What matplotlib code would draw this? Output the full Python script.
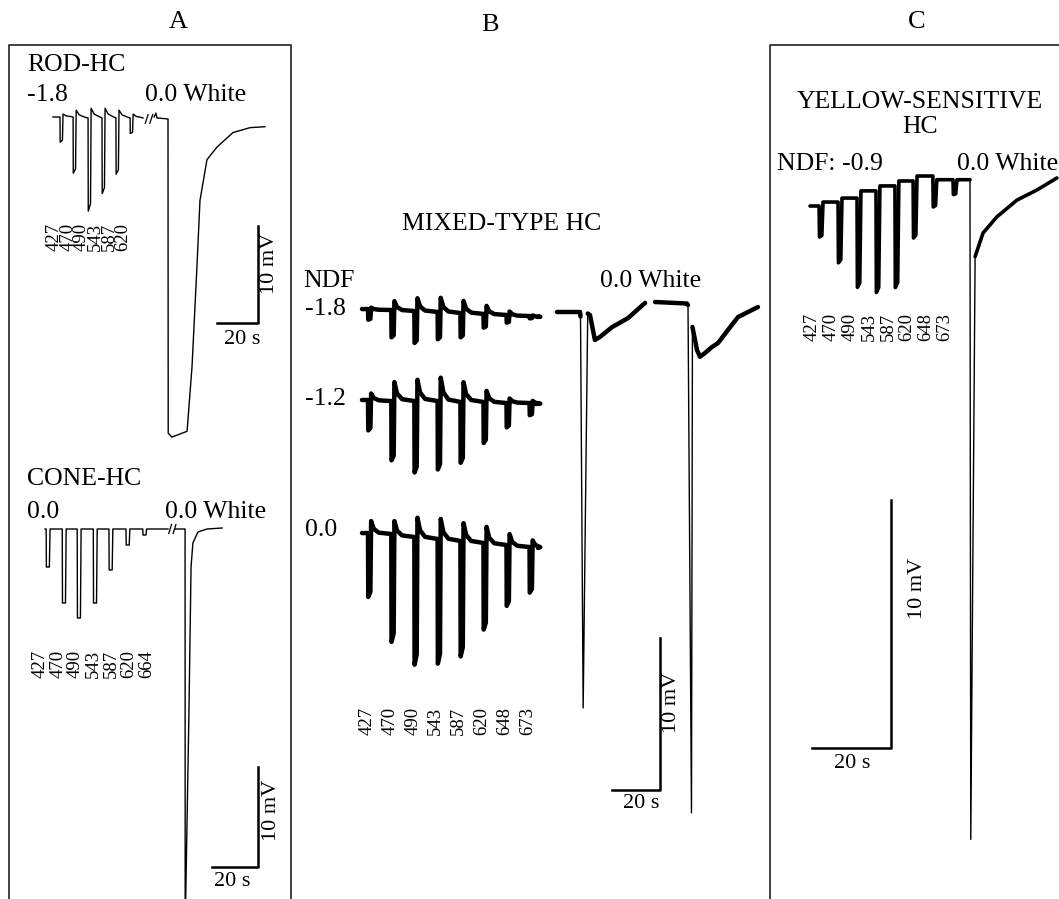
import matplotlib
matplotlib.use('Agg')
import matplotlib.pyplot as plt

plt.rcParams['font.family'] = 'Liberation Serif'

W, H = 1059, 899

# stimulus wavelengths (nm)
rod_wl = [427, 470, 490, 543, 587, 620]
cone_wl = [427, 470, 490, 543, 587, 620, 664]
mixed_wl = [427, 470, 490, 543, 587, 620, 648, 673]
yellow_wl = [427, 470, 490, 543, 587, 620, 648, 673]

# A, rod HC (NDF -1.8): onset (s), response (mV), off-rebound (mV), baseline (mV)
rod_t = [3.4, 9.8, 17.1, 23.9, 30.7, 37.6]
rod_amp = [2.6, 5.8, 9.6, 7.8, 5.8, 1.6]
rod_reb = [0.3, 0.8, 1.0, 1.0, 0.8, 0.4]
rod_base = [0, 0, -0.1, -0.1, -0.1, -0.1, -0.1]
rod_white_t = [49.3, 50.2, 50.7, 56.1, 56.2, 58.0, 65.4, 67.8, 70.2, 71.7, 75.1, 80.0, 87.8, 96.1, 103.4]
rod_white_v = [0.0, 0.4, -0.1, -0.2, -32.6, -33.0, -32.4, -25.8, -15.5, -8.6, -4.4, -3.1, -1.6, -1.1, -1.0]

# A, cone HC (NDF 0.0)
cone_t = [0.5, 7.5, 14.0, 21.0, 27.8, 35.2, 42.5]
cone_amp = [3.8, 7.4, 8.9, 7.4, 4.1, 1.6, 0.6]
cone_base = [0, 0, 0, 0, 0, 0, 0, 0]
cone_white_t = [56.5, 60.9, 60.95, 62.6, 63.5, 64.3, 66.5, 70.4, 77.0]
cone_white_v = [0.0, 0.0, -40.0, -18.1, -3.8, -1.4, -0.3, 0.0, 0.1]

# B, mixed-type HC at three NDF levels
mixed_t = [2.5, 12.2, 21.8, 31.5, 41.0, 50.6, 60.2, 69.8]
mix18_amp = [0.7, 1.8, 2.1, 1.8, 1.6, 0.9, 0.5, 0.15]
mix18_reb = [0.15, 0.65, 0.9, 1.0, 0.85, 0.6, 0.3, 0.1]
mix18_base = [-0.07, -0.13, -0.2, -0.26, -0.33, -0.39, -0.46, -0.53, -0.59]
mix12_amp = [2.0, 3.9, 4.7, 4.5, 4.0, 2.7, 1.6, 0.8]
mix12_reb = [0.5, 1.25, 1.4, 1.6, 1.3, 0.8, 0.3, 0.2]
mix12_base = [0, -0.07, -0.07, -0.07, -0.13, -0.13, -0.2, -0.2, -0.26]
mix00_amp = [4.2, 7.1, 8.4, 8.2, 7.6, 5.7, 4.0, 3.0]
mix00_reb = [0.85, 1.05, 1.4, 1.45, 1.3, 1.2, 0.85, 0.5]
mix00_base = [-0.07, -0.13, -0.33, -0.46, -0.59, -0.72, -0.86, -0.99, -1.05]
white1_t = [0, 9.6, 9.8, 10.9, 12.8, 13.75, 15.8, 17.9, 22.9, 29.6, 36.7]
white1_v = [0, 0, -0.3, -26.05, -0.1, -0.2, -1.84, -1.64, -1.0, -0.4, 0.6]
white2_t = [0, 13.3, 13.75, 15.2, 15.6, 17.5, 18.75, 20.8, 23.75, 26.25, 30.4, 34.6, 38.75, 42.9]
white2_v = [0, -0.1, -0.2, -33.6, -1.64, -3.16, -3.6, -3.36, -2.96, -2.7, -1.84, -0.99, -0.66, -0.33]

# C, yellow-sensitive HC (NDF -0.9)
yel_t = [2.3, 7.1, 11.9, 16.7, 21.5, 26.1, 31.1, 36.2]
yel_amp = [1.25, 2.45, 3.6, 4.1, 4.1, 2.3, 1.25, 0.6]
yel_base = [0.04, 0.2, 0.36, 0.65, 0.85, 1.05, 1.25, 1.1, 1.1]
yel_white_t = [40.5, 40.7, 41.8, 43.8, 47.3, 52.4, 57.5, 62.5]
yel_white_v = [1.1, -25.5, -2.0, -1.05, -0.4, 0.28, 0.69, 1.17]


fig = plt.figure(figsize=(W / 100, H / 100), dpi=100)

deco = fig.add_axes([0, 0, 1, 1])
deco.set_xlim(0, W)
deco.set_ylim(H, 0)
deco.axis('off')


def trace_axes(x0, y0, px_s, px_mv):
    # axes spanning the figure, origin of (s, mV) at pixel (x0, y0)
    ax = fig.add_axes([0, 0, 1, 1])
    ax.set_xlim(-x0 / px_s, (W - x0) / px_s)
    ax.set_ylim(-(H - y0) / px_mv, y0 / px_mv)
    ax.axis('off')
    return ax


def train(onsets, amps, base, reb, width, decay, sag, t_end):
    t, v = [0.0], [base[0]]
    for i, (on, a) in enumerate(zip(onsets, amps)):
        b0, b1 = base[i], base[i + 1]
        r = reb[i] if reb else 0
        t += [on, on + 0.1, on + width, on + width + 0.3, on + width + decay * 0.4, on + width + decay]
        v += [b0, b0 - a, b0 - a * sag, b1 + r, b1 + r * 0.4, b1 + r * 0.1]
    t.append(t_end)
    v.append(base[-1])
    return t, v


def white(ax, t, v, k, lw):
    ax.plot(t, v, color='black', lw=1.0)
    ax.plot(t[:k], v[:k], color='black', lw=lw, solid_capstyle='round')
    ax.plot(t[k + 1:], v[k + 1:], color='black', lw=lw, solid_capstyle='round')


def scale_bar(x0, y0, px_s, px_mv):
    ax = trace_axes(x0, y0, px_s, px_mv)
    ax.plot([-20, 0, 0], [0, 0, 10], color='black', lw=1.8)


def breaks(ax, t0, dt, v0, dv):
    for s in (0, dt * 1.6):
        ax.plot([t0 + s, t0 + s + dt], [v0 - dv, v0 + dv], color='black', lw=0.9)


def txt(x, y, s, size=18.5, **kw):
    deco.text(x, y, s, fontsize=size, color='black', **kw)


# ---- panel frames
deco.plot([9, 9, 291, 291], [H, 45, 45, H], color='#333333', lw=1.3)
deco.plot([770, 770, W], [H, 45, 45], color='#333333', lw=1.3)

# ---- A: rod HC
ax = trace_axes(53, 117, 2.05, 9.7)
t, v = train(rod_t, rod_amp, rod_base, rod_reb, 1.2, 4.5, 0.92, 43.9)
ax.plot(t, v, color='black', lw=1.0)
breaks(ax, 45.0, 1.4, -0.2, 0.45)
ax.plot(rod_white_t, rod_white_v, color='black', lw=1.0)
scale_bar(258, 323, 2.05, 9.7)

# ---- A: cone HC
ax = trace_axes(45, 529, 2.3, 10.0)
t, v = train(cone_t, cone_amp, cone_base, None, 1.4, 2.0, 1.0, 53.5)
ax.plot(t, v, color='black', lw=1.0)
breaks(ax, 53.8, 1.2, 0.0, 0.45)
ax.plot(cone_white_t, cone_white_v, color='black', lw=1.0)
scale_bar(258, 867, 2.3, 10.0)

# ---- B: mixed-type HC
for y0, amp, reb, base, t_end in [(308, mix18_amp, mix18_reb, mix18_base, 73.3),
                                  (400, mix12_amp, mix12_reb, mix12_base, 72.1),
                                  (532, mix00_amp, mix00_reb, mix00_base, 73.3)]:
    ax = trace_axes(362, y0, 2.4, 15.2)
    t, v = train(mixed_t, amp, base, reb, 1.0, 3.5, 0.92, t_end)
    ax.plot(t, v, color='black', lw=3.2, solid_joinstyle='round', solid_capstyle='round')
ax = trace_axes(557, 312, 2.4, 15.2)
white(ax, white1_t, white1_v, 3, 3.2)
ax = trace_axes(655, 302, 2.4, 15.2)
white(ax, white2_t, white2_v, 3, 3.2)
scale_bar(660, 790, 2.4, 15.2)

# ---- C: yellow-sensitive HC
ax = trace_axes(810, 207, 3.95, 24.8)
t, v = train(yel_t, yel_amp, yel_base, None, 0.7, 2.0, 0.95, yel_white_t[0])
ax.plot(t, v, color='black', lw=2.6, solid_joinstyle='round', solid_capstyle='round')
white(ax, yel_white_t, yel_white_v, 1, 2.6)
scale_bar(891, 748, 3.95, 24.8)

# ---- text
txt(178, 22, 'A', ha='center', va='center', size=19)
txt(490, 25, 'B', ha='center', va='center', size=19)
txt(917, 22, 'C', ha='center', va='center', size=19)

txt(27, 71, 'ROD-HC', va='baseline')
txt(27, 101, '-1.8', va='baseline')
txt(145, 101, '0.0 White', va='baseline')
txt(27, 485, 'CONE-HC', va='baseline')
txt(27, 518, '0.0', va='baseline')
txt(165, 518, '0.0 White', va='baseline')

txt(502, 230, 'MIXED-TYPE HC', ha='center', va='baseline')
txt(303, 287, 'NDF', va='baseline')
txt(305, 315, '-1.8', va='baseline')
txt(305, 405, '-1.2', va='baseline')
txt(305, 536, '0.0', va='baseline')
txt(600, 287, '0.0 White', va='baseline')

txt(920, 108, 'YELLOW-SENSITIVE', ha='center', va='baseline')
txt(920, 133, 'HC', ha='center', va='baseline')
txt(777, 170, 'NDF: -0.9', va='baseline')
txt(957, 170, '0.0 White', va='baseline')

# scale bar labels
for x, y in [(270, 263), (272, 810), (672, 702), (917, 588)]:
    txt(x, y, '10 mV', ha='center', va='center', rotation=90, size=16)
for x, y in [(242, 339), (232, 882), (641, 804), (852, 763)]:
    txt(x, y, '20 s', ha='center', va='center', size=16)

# wavelength labels
for wls, x0, step, yc in [(rod_wl, 54, 13.8, 237), (cone_wl, 40, 17.8, 664),
                          (mixed_wl, 367, 22.9, 721), (yellow_wl, 812, 19.0, 327)]:
    for i, wl in enumerate(wls):
        txt(x0 + i * step, yc, str(wl), ha='center', va='center', rotation=90, size=13.5)

fig.savefig('out.png', dpi=100)
